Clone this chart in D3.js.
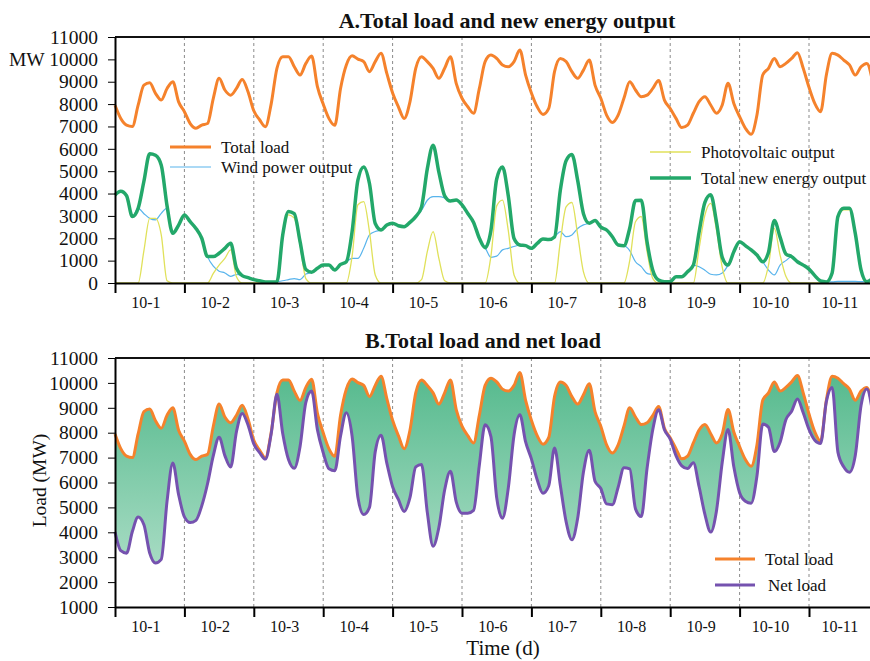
<!DOCTYPE html>
<html>
<head>
<meta charset="utf-8">
<script src="https://cdn.jsdelivr.net/npm/d3@7/dist/d3.min.js"></script>
<style>
  body { margin: 0; background: #fff; }
  svg text { font-family: "Liberation Serif", "Times New Roman", serif; fill: #111; }
</style>
</head>
<body>
<div id="chart"></div>
<script>
// readings every 2 hours, 12 per day, starting 10-1 00:00
const dayLabels = ["10-1", "10-2", "10-3", "10-4", "10-5", "10-6", "10-7", "10-8", "10-9", "10-10", "10-11"];
const stepHours = 2;

const totalLoad = [
  7950, 7360, 7060, 7000, 7950, 8850, 8950, 8480, 8180, 8700, 9000, 8100,
  7660, 7130, 6920, 7060, 7130, 8260, 9150, 8630, 8400, 8700, 9100, 8550,
  7700, 7300, 6990, 8000, 9600, 10120, 10120, 9670, 9300, 9820, 10150, 8780,
  8000, 7350, 7050, 8700, 9750, 10160, 10010, 9900, 9450, 9900, 10270, 9370,
  8500, 7880, 7360, 8100, 9600, 10120, 9900, 9600, 9150, 9600, 10120, 8930,
  8260, 7880, 7590, 8700, 9900, 10190, 10040, 9750, 9670, 9900, 10420, 9300,
  8500, 7880, 7540, 7810, 9450, 10040, 9900, 9450, 9150, 9520, 9970, 8850,
  8260, 7510, 7180, 7510, 8260, 9000, 8630, 8330, 8400, 8700, 9050, 8180,
  7800, 7360, 6950, 7060, 7590, 8110, 8330, 7960, 7590, 7960, 8930, 8030,
  7440, 6920, 6650, 7510, 9300, 9600, 10040, 9670, 9820, 10040, 10300, 9600,
  8750, 8030, 7660, 9300, 10270, 10190, 9970, 9750, 9300, 9670, 9820, 9000
];

const windPower = [
  3930, 4100, 3900, 2970, 3340, 3100, 2890, 2820, 3115, 3350, 2220, 2590,
  3040, 2740, 2440, 2000, 1180, 750, 530, 450, 300, 380, 330, 240,
  150, 100, 50, 50, 60, 100, 150, 200, 150, 400, 480, 660,
  800, 800, 580, 830, 950, 1100, 1100, 1550, 2150, 2300, 2370, 2590,
  2670, 2560, 2520, 2710, 2970, 3250, 3700, 3860, 3860, 3800, 3670, 3710,
  3490, 3110, 2710, 2000, 1580, 1150, 1200, 1480, 1550, 1630, 1700, 1670,
  1550, 1770, 1970, 1940, 2060, 2300, 2070, 2150, 2440, 2600, 2670, 2800,
  2500, 2370, 2070, 1700, 1670, 1450, 950, 730, 430, 360, 130, 60,
  60, 280, 280, 500, 800, 730, 570, 390, 360, 450, 800, 1400,
  1850, 1670, 1480, 1250, 950, 580, 360, 800, 1000, 1180, 950, 800,
  620, 330, 90, 50, 50, 70, 70, 70, 70, 60, 60, 200
];

const pvOutput = [
  0, 0, 0, 0, 0, 1450, 2890, 2890, 2150, 100, 0, 0,
  0, 0, 0, 0, 0, 430, 800, 1100, 1480, 280, 0, 0,
  0, 0, 0, 0, 0, 2050, 3050, 2900, 1700, 200, 0, 0,
  0, 0, 0, 0, 0, 1200, 3500, 3640, 2300, 360, 0, 0,
  0, 0, 0, 0, 0, 150, 1400, 2300, 1100, 100, 0, 0,
  0, 0, 0, 0, 0, 1200, 3450, 3710, 2350, 360, 0, 0,
  0, 0, 0, 0, 0, 1850, 3400, 3600, 2150, 500, 0, 0,
  0, 0, 0, 0, 0, 1000, 2740, 2970, 1400, 200, 0, 0,
  0, 0, 0, 0, 0, 1550, 3040, 3560, 2370, 700, 0, 0,
  0, 0, 0, 0, 0, 800, 2440, 1250, 300, 0, 0, 0,
  0, 0, 0, 0, 400, 2900, 3270, 3270, 2150, 520, 0, 0
];

const yTicksA = d3.range(0, 11001, 1000);
const yTicksB = d3.range(1000, 11001, 1000);

const colors = {
  load: "#f5822c",
  wind: "#58b4ec",
  pv: "#e0e15a",
  total: "#23a86a",
  net: "#7552af"
};

// new energy = wind + pv, net load = load - new energy
const series = totalLoad.map((v, i) => ({
  t: i * stepHours,
  load: v,
  wind: windPower[i],
  pv: pvOutput[i],
  total: windPower[i] + pvOutput[i],
  net: v - (windPower[i] + pvOutput[i])
}));

const width = 870, height = 661;
const svg = d3.select("#chart").append("svg")
  .attr("width", width).attr("height", height);

const nDays = dayLabels.length;
const x = d3.scaleLinear().domain([0, nDays * 24]).range([115, 115 + nDays * 69.4]);

const panels = [
  { key: "A", top: 37, bottom: 283, domain: [0, 11000], ticks: yTicksA,
    title: "A.Total load and new energy output", titleX: 507, titleY: 28 },
  { key: "B", top: 358, bottom: 607, domain: [1000, 11000], ticks: yTicksB,
    title: "B.Total load and net load", titleX: 483, titleY: 348 }
];

panels.forEach(p => {
  p.y = d3.scaleLinear().domain(p.domain).range([p.bottom, p.top]);
  const g = svg.append("g");
  p.g = g;

  // day separators
  g.selectAll(".sep").data(d3.range(1, nDays)).join("line")
    .attr("x1", d => x(d * 24)).attr("x2", d => x(d * 24))
    .attr("y1", p.top).attr("y2", p.bottom)
    .attr("stroke", "#8a8a8a").attr("stroke-width", 1)
    .attr("stroke-dasharray", "3,3");

  // top frame
  g.append("line")
    .attr("x1", 115).attr("x2", width).attr("y1", p.top).attr("y2", p.top)
    .attr("stroke", "#111").attr("stroke-width", 2);

  svg.append("text")
    .attr("x", p.titleX).attr("y", p.titleY)
    .attr("text-anchor", "middle")
    .attr("font-size", 22).attr("font-weight", "bold")
    .text(p.title);
});

function drawAxes(p) {
  const ya = p.g.append("g")
    .attr("transform", "translate(115,0)")
    .call(d3.axisLeft(p.y).tickValues(p.ticks).tickSize(7).tickSizeOuter(0).tickPadding(10).tickFormat(d3.format("d")));
  ya.selectAll("text").attr("font-size", 19.5);
  ya.select(".domain").attr("stroke-width", 2);

  const xa = p.g.append("g")
    .attr("transform", `translate(0,${p.bottom})`)
    .call(d3.axisBottom(x).tickValues(d3.range(0, nDays * 24 + 1, 24)).tickSize(10).tickSizeOuter(0).tickFormat(""));
  xa.select(".domain").attr("stroke-width", 2);
  xa.selectAll(".tick line").attr("stroke-width", 2);

  const xl = p.g.append("g")
    .attr("transform", `translate(0,${p.bottom})`)
    .call(d3.axisBottom(x).tickValues(d3.range(nDays).map(d => d * 24 + 10.5)).tickSize(0).tickPadding(14)
      .tickFormat((d, i) => dayLabels[i]));
  xl.select(".domain").remove();
  xl.selectAll("text").attr("font-size", 16);
}

// ---- panel A ----
const pA = panels[0];
const lineA = key => d3.line().curve(d3.curveMonotoneX).x(d => x(d.t)).y(d => pA.y(d[key]));

[["load", 3], ["wind", 1.2], ["pv", 1.3], ["total", 3.5]].forEach(([k, w]) => {
  pA.g.append("path").datum(series)
    .attr("fill", "none").attr("stroke", colors[k]).attr("stroke-width", w)
    .attr("stroke-linejoin", "round")
    .attr("d", lineA(k));
});
drawAxes(pA);

svg.append("text").attr("x", 9).attr("y", pA.y(10000)).attr("dy", "0.35em")
  .attr("font-size", 19.5).text("MW");

const legendA = [
  { key: "load", label: "Total load", x: 170, y: 147, w: 3 },
  { key: "wind", label: "Wind power output", x: 170, y: 167, w: 1.2 },
  { key: "pv", label: "Photovoltaic output", x: 650, y: 152, w: 1.3 },
  { key: "total", label: "Total new energy output", x: 650, y: 178, w: 3.5 }
];
legendA.forEach(l => {
  svg.append("line").attr("x1", l.x).attr("x2", l.x + 41).attr("y1", l.y).attr("y2", l.y)
    .attr("stroke", colors[l.key]).attr("stroke-width", l.w);
  svg.append("text").attr("x", l.x + 51).attr("y", l.y).attr("dy", "0.35em")
    .attr("font-size", 17).text(l.label);
});

// ---- panel B ----
const pB = panels[1];
const defs = svg.append("defs");
const grad = defs.append("linearGradient").attr("id", "netFill")
  .attr("gradientUnits", "userSpaceOnUse")
  .attr("x1", 0).attr("x2", 0).attr("y1", pB.top).attr("y2", pB.bottom);
grad.append("stop").attr("offset", "0%").attr("stop-color", "#4fb789");
grad.append("stop").attr("offset", "100%").attr("stop-color", "#b9e3cf");

pB.g.append("path").datum(series)
  .attr("fill", "url(#netFill)")
  .attr("d", d3.area().curve(d3.curveMonotoneX).x(d => x(d.t)).y0(d => pB.y(d.net)).y1(d => pB.y(d.load)));

const lineB = key => d3.line().curve(d3.curveMonotoneX).x(d => x(d.t)).y(d => pB.y(d[key]));
[["load", 3], ["net", 3]].forEach(([k, w]) => {
  pB.g.append("path").datum(series)
    .attr("fill", "none").attr("stroke", colors[k]).attr("stroke-width", w)
    .attr("stroke-linejoin", "round")
    .attr("d", lineB(k));
});
drawAxes(pB);

svg.append("text")
  .attr("transform", `translate(46,${(pB.top + pB.bottom) / 2 - 2}) rotate(-90)`)
  .attr("text-anchor", "middle").attr("font-size", 19.5).text("Load (MW)");

svg.append("text").attr("x", 503).attr("y", 655)
  .attr("text-anchor", "middle").attr("font-size", 21).text("Time (d)");

const legendB = [
  { key: "load", label: "Total load", x: 715, y: 559, tx: 765 },
  { key: "net", label: "Net load", x: 715, y: 585, tx: 768 }
];
legendB.forEach(l => {
  svg.append("line").attr("x1", l.x).attr("x2", l.x + 40).attr("y1", l.y).attr("y2", l.y)
    .attr("stroke", colors[l.key]).attr("stroke-width", 3);
  svg.append("text").attr("x", l.tx).attr("y", l.y).attr("dy", "0.35em")
    .attr("font-size", 17).text(l.label);
});
</script>
</body>
</html>
